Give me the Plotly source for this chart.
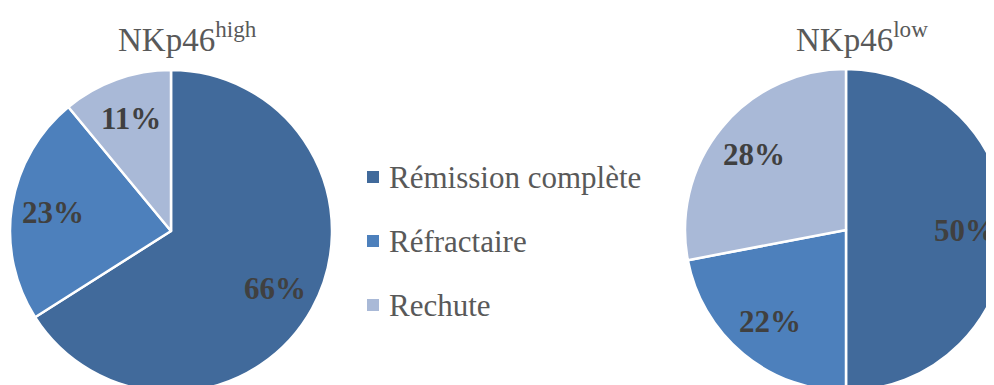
import math
import plotly.graph_objects as go

labels = ["Rémission complète", "Réfractaire", "Rechute"]
high_values = [66, 23, 11]
low_values = [50, 22, 28]
titles = ["NKp46<sup>high</sup>", "NKp46<sup>low</sup>"]
colors = ["#416A9B", "#4D80BC", "#A9B9D7"]

# figure is a bit larger than the window, pies run off the bottom/right like the original
W, H = 1000, 390
R = 161
centers = [(163, 223), (838, 222)]


def px(x, y):
    return x / W, 1 - y / H


fig = go.Figure()
annotations = []

for vals, (cx, cy), title in zip([high_values, low_values], centers, titles):
    fig.add_trace(go.Pie(
        labels=labels,
        values=vals,
        sort=False,
        direction="clockwise",
        rotation=0,
        marker=dict(colors=colors, line=dict(color="white", width=2.5)),
        textinfo="none",
        domain=dict(x=[(cx - R) / W, (cx + R) / W], y=[1 - (cy + R) / H, 1 - (cy - R) / H]),
        showlegend=False,
        hoverinfo="label+percent",
    ))

    # data labels, horizontal, along the middle of each slice
    total = sum(vals)
    cum = 0
    for v in vals:
        mid = 2 * math.pi * (cum + v / 2) / total
        cum += v
        lx = cx + 0.74 * R * math.sin(mid)
        ly = cy - 0.74 * R * math.cos(mid)
        x, y = px(lx, ly)
        annotations.append(dict(
            x=x, y=y, xref="paper", yref="paper", showarrow=False,
            xanchor="center", yanchor="middle",
            text="<b>%d%%</b>" % round(100 * v / total),
            font=dict(family="Liberation Serif", size=31, color="#404040"),
        ))

    x, y = px(cx + 16, 29)
    annotations.append(dict(
        x=x, y=y, xref="paper", yref="paper", showarrow=False,
        xanchor="center", yanchor="middle",
        text=title, font=dict(family="Liberation Serif", size=33, color="#595959"),
    ))

# legend
shapes = []
for i, (lab, col) in enumerate(zip(labels, colors)):
    ly = 169 + 64 * i
    x0, y1 = px(359, ly - 6)
    x1, y0 = px(371, ly + 6)
    shapes.append(dict(type="rect", xref="paper", yref="paper",
                       x0=x0, x1=x1, y0=y0, y1=y1, fillcolor=col, line_width=0))
    x, y = px(379, ly)
    annotations.append(dict(
        x=x, y=y, xref="paper", yref="paper", showarrow=False,
        xanchor="left", yanchor="middle", text=lab,
        font=dict(family="Liberation Serif", size=31, color="#595959"),
    ))

fig.update_layout(
    width=W,
    height=H,
    margin=dict(l=0, r=0, t=0, b=0),
    paper_bgcolor="white",
    plot_bgcolor="white",
    annotations=annotations,
    shapes=shapes,
)

fig.write_html("out.html")
